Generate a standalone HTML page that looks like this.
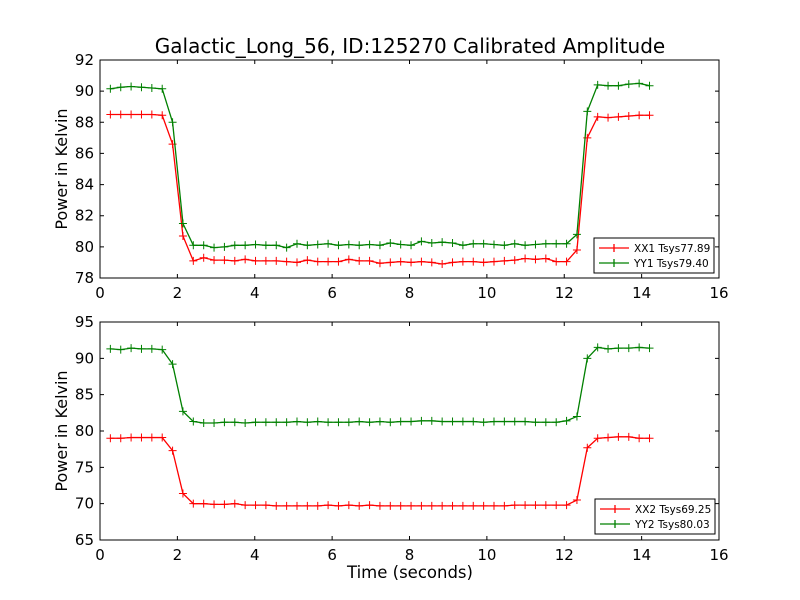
<!DOCTYPE html>
<html><head><meta charset="utf-8"><style>body{margin:0;background:#fff}svg{display:block;font-family:"DejaVu Sans","Liberation Sans",sans-serif}</style></head>
<body>
<svg id="c" width="800" height="600"></svg>
<script>
const xTicks=[0,2,4,6,8,10,12,14,16];
const topYTicks=[78,80,82,84,86,88,90,92];
const botYTicks=[65,70,75,80,85,90,95];
const dt=0.268;
const xx1=[88.5,88.5,88.5,88.5,88.5,88.45,86.6,80.7,
79.1,79.3,79.15,79.15,79.1,79.2,79.1,79.1,79.1,79.05,
79.0,79.15,79.05,79.05,79.05,79.2,79.1,79.1,78.95,79.0,
79.05,79.0,79.05,79.0,78.9,79.0,79.05,79.05,79.0,79.05,
79.1,79.15,79.25,79.2,79.25,79.05,79.05,
79.8,87.0,88.35,88.3,88.35,88.4,88.45,88.45];
const yy1=[90.15,90.25,90.3,90.25,90.2,90.15,88.0,81.5,
80.1,80.1,79.95,80.0,80.1,80.1,80.15,80.1,80.1,79.95,
80.2,80.1,80.15,80.2,80.1,80.15,80.1,80.15,80.1,80.25,
80.15,80.1,80.35,80.25,80.3,80.25,80.1,80.2,80.2,80.15,
80.1,80.2,80.1,80.15,80.2,80.2,80.2,
80.8,88.7,90.4,90.35,90.35,90.45,90.5,90.35];
const xx2=[79.0,79.0,79.1,79.1,79.1,79.1,77.3,71.4,
70.0,70.0,69.9,69.9,70.0,69.8,69.8,69.8,69.7,69.7,
69.7,69.7,69.7,69.8,69.7,69.8,69.7,69.8,69.7,69.7,
69.7,69.7,69.7,69.7,69.7,69.7,69.7,69.7,69.7,69.7,
69.7,69.8,69.8,69.8,69.8,69.8,69.8,
70.5,77.7,79.0,79.1,79.2,79.2,79.0,79.0];
const yy2=[91.3,91.2,91.4,91.3,91.3,91.2,89.2,82.7,
81.3,81.1,81.1,81.2,81.2,81.1,81.2,81.2,81.2,81.2,
81.3,81.2,81.3,81.2,81.2,81.2,81.3,81.2,81.3,81.2,
81.3,81.3,81.4,81.4,81.3,81.3,81.3,81.3,81.2,81.3,
81.3,81.3,81.3,81.2,81.2,81.2,81.4,
82.0,90.0,91.5,91.3,91.4,91.4,91.5,91.4];
const NS='http://www.w3.org/2000/svg';
const svg=document.getElementById('c');
function mk(tag,attrs,parent){const e=document.createElementNS(NS,tag);for(const k in attrs)e.setAttribute(k,attrs[k]);(parent||svg).appendChild(e);return e;}
function txt(s,x,y,size,anchor,name,rot){const t=mk('text',{x:x,y:y,'font-size':size,'text-anchor':anchor||'middle',fill:'#000'});if(rot)t.setAttribute('transform',rot);t.textContent=s;

return t;}
function panel(top,bot,ymin,ymax,yTicks,series,legend,pname){
  const L=100,R=719;
  const sx=v=>L+(v-0)/(16-0)*(R-L);
  const sy=v=>bot-(v-ymin)/(ymax-ymin)*(bot-top);
  const g=mk('g',{});
  
  
  series.forEach(s=>{
    const pts=s.vals.map((v,i)=>[sx(dt*(i+1)),sy(v)]);
    const pl=mk('polyline',{points:pts.map(p=>p.join(',')).join(' '),fill:'none',stroke:s.color,'stroke-width':1.3},g);
    
    
    pts.forEach(p=>{
      const m=mk('path',{d:`M${p[0]-4},${p[1]}H${p[0]+4}M${p[0]},${p[1]-4}V${p[1]+4}`,stroke:s.color,'stroke-width':1},g);
      
      
    });
  });
  const fr=mk('rect',{x:L,y:top,width:R-L,height:bot-top,fill:'none',stroke:'#000','stroke-width':1},g);
  
  
  xTicks.forEach(v=>{const x=sx(v);
    mk('path',{d:`M${x},${bot}v-4M${x},${top}v4`,stroke:'#000'},g);
    txt(String(v),x,bot+20,15,'middle','x-tick-label');});
  yTicks.forEach(v=>{const y=sy(v);
    mk('path',{d:`M${L},${y}h4M${R},${y}h-4`,stroke:'#000'},g);
    txt(String(v),L-6,y+5,15,'end','y-tick-label');});
  txt('Power in Kelvin',67,(top+bot)/2,16,'middle','y-axis-title',`rotate(-90 67 ${(top+bot)/2})`);
  const lg=mk('g',{},g);
  
  
  mk('rect',{x:legend.x,y:legend.y,width:120,height:35,fill:'#fff',stroke:'#000'},lg);
  series.forEach((s,i)=>{const y=legend.y+10+i*15;
    mk('path',{d:`M${legend.x+5},${y}h30M${legend.x+20},${y-4}v8`,stroke:s.color,'stroke-width':1.3},lg);
    const t=txt(s.label,legend.x+40,y+4,10.5,'start','legend-entry');lg.appendChild(t);});
}
txt('Galactic_Long_56, ID:125270 Calibrated Amplitude',410,53,20,'middle','chart-title');
panel(60,278,78,92,topYTicks,[{vals:xx1,color:'#ff0000',name:'xx1',label:'XX1 Tsys77.89'},{vals:yy1,color:'#008000',name:'yy1',label:'YY1 Tsys79.40'}],{x:594,y:238},'top-panel');
panel(322,540,65,95,botYTicks,[{vals:xx2,color:'#ff0000',name:'xx2',label:'XX2 Tsys69.25'},{vals:yy2,color:'#008000',name:'yy2',label:'YY2 Tsys80.03'}],{x:595,y:499},'bottom-panel');
txt('Time (seconds)',410,578,16.5,'middle','x-axis-title');
</script>
</body></html>
